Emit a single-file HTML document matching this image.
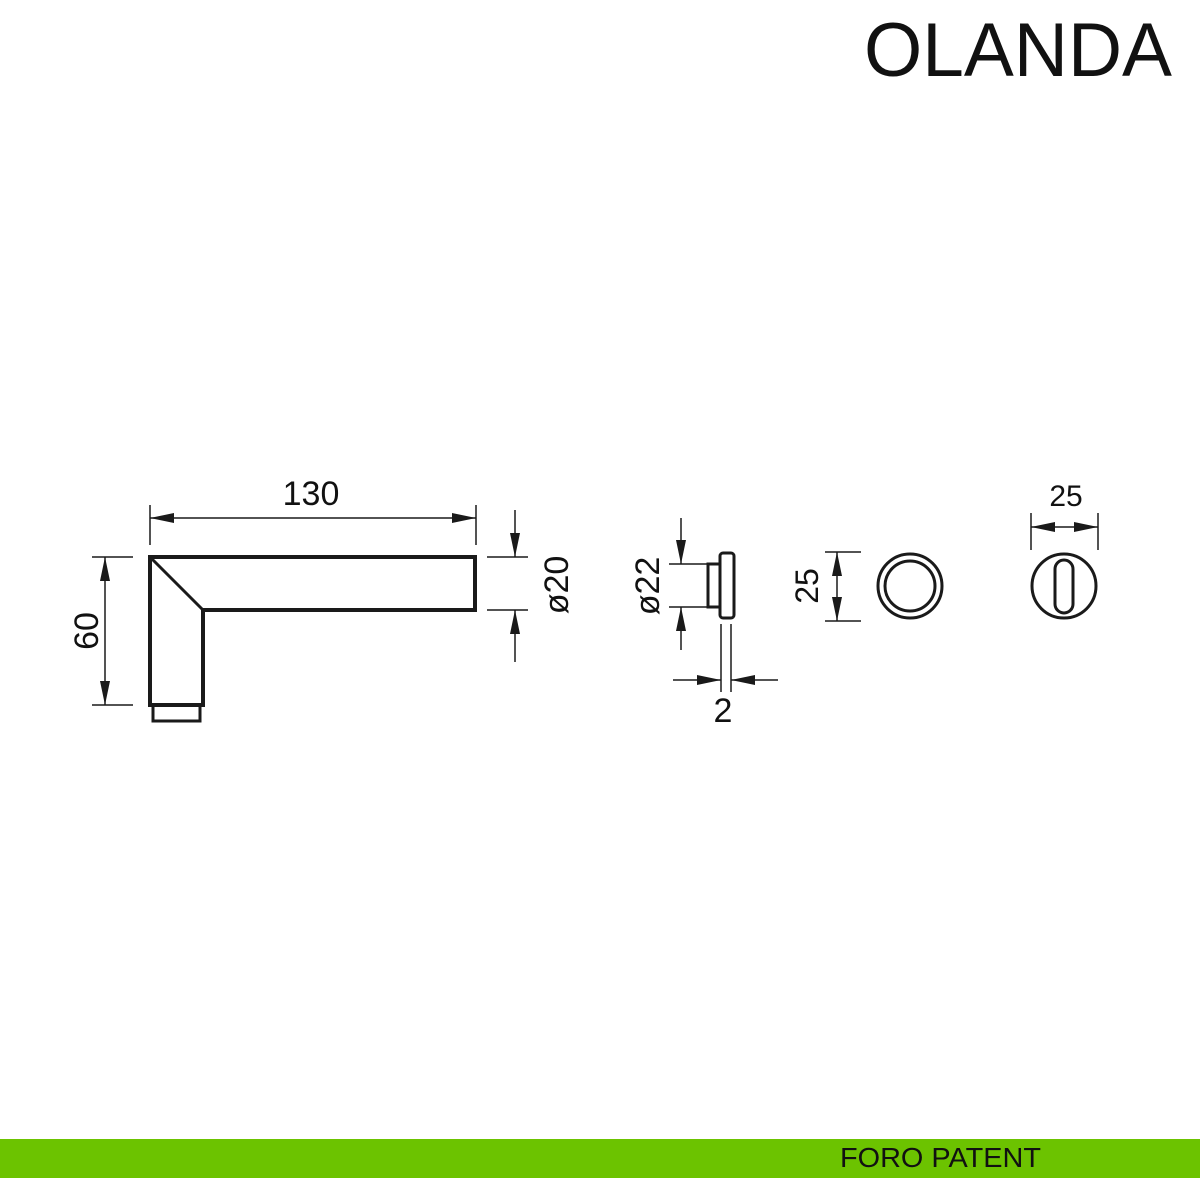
<!DOCTYPE html>
<html><head><style>html,body{margin:0;padding:0;background:#fff}svg{display:block}</style></head>
<body>
<svg width="1200" height="1200" viewBox="0 0 1200 1200" xmlns="http://www.w3.org/2000/svg" font-family="Liberation Sans, sans-serif">
<defs>
<marker id="a" viewBox="0 0 24 10" refX="24" refY="5" markerWidth="24" markerHeight="10" markerUnits="userSpaceOnUse" orient="auto"><path d="M0,0L24,5L0,10z" fill="#1a1a1a"/></marker>
</defs>
<rect width="1200" height="1200" fill="#fff"/>
<text x="1172" y="76" font-size="76" text-anchor="end" textLength="308" lengthAdjust="spacingAndGlyphs" fill="#111">OLANDA</text>
<rect x="0" y="1139" width="1200" height="39" fill="#6cc300"/>
<text x="840" y="1167" font-size="28" textLength="201" lengthAdjust="spacingAndGlyphs" fill="#111">FORO PATENT</text>

<g stroke="#1a1a1a" fill="none">
<path d="M150,557 H475 V610 H203 V705 H150 Z" stroke-width="4"/>
<line x1="150" y1="557" x2="203" y2="610" stroke-width="3"/>
<rect x="153" y="705" width="47" height="16" stroke-width="3"/>
<g stroke-width="1.5">
<line x1="150" y1="505" x2="150" y2="545"/>
<line x1="476" y1="505" x2="476" y2="545"/>
<line x1="300" y1="518" x2="150" y2="518" marker-end="url(#a)"/>
<line x1="300" y1="518" x2="476" y2="518" marker-end="url(#a)"/>
<line x1="92" y1="557" x2="133" y2="557"/>
<line x1="92" y1="705" x2="133" y2="705"/>
<line x1="105" y1="630" x2="105" y2="557" marker-end="url(#a)"/>
<line x1="105" y1="630" x2="105" y2="705" marker-end="url(#a)"/>
<line x1="487" y1="557" x2="528" y2="557"/>
<line x1="487" y1="610" x2="528" y2="610"/>
<line x1="515" y1="510" x2="515" y2="557" marker-end="url(#a)"/>
<line x1="515" y1="662" x2="515" y2="610" marker-end="url(#a)"/>
</g>
<rect x="720" y="553" width="14" height="65" rx="3" stroke-width="3"/>
<rect x="708" y="564" width="12" height="43" stroke-width="3"/>
<g stroke-width="1.5">
<line x1="669" y1="564" x2="707" y2="564"/>
<line x1="669" y1="607" x2="707" y2="607"/>
<line x1="681" y1="518" x2="681" y2="564" marker-end="url(#a)"/>
<line x1="681" y1="650" x2="681" y2="607" marker-end="url(#a)"/>
<line x1="721" y1="624" x2="721" y2="692"/>
<line x1="731" y1="624" x2="731" y2="692"/>
<line x1="673" y1="680" x2="721" y2="680" marker-end="url(#a)"/>
<line x1="778" y1="680" x2="731" y2="680" marker-end="url(#a)"/>
<line x1="825" y1="552" x2="861" y2="552"/>
<line x1="825" y1="621" x2="861" y2="621"/>
<line x1="837" y1="586" x2="837" y2="552" marker-end="url(#a)"/>
<line x1="837" y1="586" x2="837" y2="621" marker-end="url(#a)"/>
<line x1="1031" y1="513" x2="1031" y2="550"/>
<line x1="1098" y1="513" x2="1098" y2="550"/>
<line x1="1064" y1="527" x2="1031" y2="527" marker-end="url(#a)"/>
<line x1="1064" y1="527" x2="1098" y2="527" marker-end="url(#a)"/>
</g>
<circle cx="910" cy="586" r="32" stroke-width="3"/>
<circle cx="910" cy="586" r="25" stroke-width="3"/>
<circle cx="1064" cy="586" r="32" stroke-width="3"/>
<rect x="1055" y="560" width="18" height="53" rx="9" stroke-width="3"/>
</g>

<g fill="#111" font-size="34">
<text x="311" y="505" text-anchor="middle">130</text>
<text x="723" y="722" text-anchor="middle">2</text>
<text x="1066" y="506" text-anchor="middle" font-size="30">25</text>
<text transform="translate(98,631) rotate(-90)" text-anchor="middle">60</text>
<text transform="translate(568,585) rotate(-90)" text-anchor="middle">ø20</text>
<text transform="translate(659,586) rotate(-90)" text-anchor="middle">ø22</text>
<text transform="translate(818,586) rotate(-90)" text-anchor="middle" font-size="32">25</text>
</g>
</svg>
</body></html>
